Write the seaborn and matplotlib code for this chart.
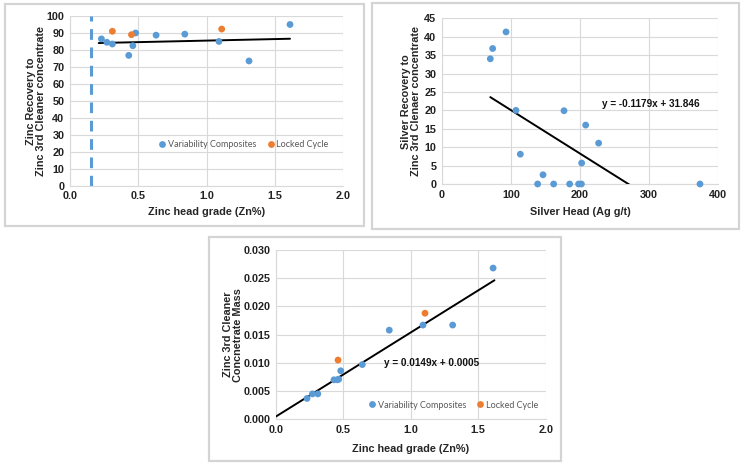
import numpy as np
import pandas as pd
import matplotlib
matplotlib.use("Agg")
import matplotlib.pyplot as plt
from matplotlib.patches import Rectangle
import seaborn as sns

# ---------------- data ----------------
# Chart 1: Zinc recovery vs zinc head grade
zn_var_x = [0.23, 0.27, 0.31, 0.43, 0.46, 0.48, 0.63, 0.84, 1.09, 1.31, 1.61]
zn_var_y = [86.5, 84.5, 83.5, 76.8, 82.5, 90.0, 88.7, 89.3, 85.0, 73.5, 95.0]
zn_lc_x = [0.31, 0.45, 1.11]
zn_lc_y = [91.0, 89.0, 92.3]
zn_trend_slope, zn_trend_intercept = 1.8, 83.7
zn_trend_range = [0.21, 1.61]
zn_cutoff = 0.157

# Chart 2: Silver recovery vs silver head
ag_x = [70.0, 73.4, 92.8, 107.2, 113.5, 138.6, 146.4, 161.8, 176.8, 185.0,
        198.0, 202.0, 202.4, 208.2, 227.0, 373.9]
ag_y = [34.0, 36.8, 41.3, 20.0, 8.1, 0.0, 2.5, 0.0, 19.9, 0.0,
        0.0, 0.0, 5.7, 16.0, 11.1, 0.0]
ag_trend_slope, ag_trend_intercept = -0.1179, 31.846
ag_eq = "y = -0.1179x + 31.846"

# Chart 3: Zinc concentrate mass vs zinc head grade
mass_var_x = [0.23, 0.27, 0.31, 0.43, 0.455, 0.465, 0.48, 0.64, 0.84, 1.09, 1.31, 1.61]
mass_var_y = [0.0037, 0.0045, 0.0045, 0.0070, 0.0070, 0.0071, 0.0086, 0.0097,
              0.0158, 0.0167, 0.0167, 0.0268]
mass_lc_x = [0.46, 1.105]
mass_lc_y = [0.0105, 0.0188]
mass_trend_slope, mass_trend_intercept = 0.0149, 0.0005
mass_trend_range = [0.0, 1.62]
mass_eq = "y = 0.0149x + 0.0005"

series_names = ["Variability Composites", "Locked Cycle"]
palette = {"Variability Composites": "#5B9BD5", "Locked Cycle": "#ED7D31"}

# ---------------- style ----------------
sns.set_theme(style="white")
plt.rcParams['font.family'] = ['Liberation Sans', 'DejaVu Sans']

W, H = 747, 467
fig = plt.figure(figsize=(W / 100, H / 100), dpi=100)
fig.patch.set_facecolor("white")

def fx(px):
    return px / W

def fy(py):
    return (H - py) / H

# panel frames
for (x0, y0, x1, y1) in [(5, 4, 364, 226), (372, 3, 739, 229), (209, 237, 561, 461)]:
    fig.add_artist(Rectangle((fx(x0), fy(y1)), fx(x1) - fx(x0), fy(y0) - fy(y1),
                             transform=fig.transFigure, fill=False,
                             edgecolor="#d4d4d4", linewidth=1.6))

GRID = "#d9d9d9"
TICK_FS = 7.8
LAB_FS = 7.8
LEG_FS = 6.5
MS = 24


def style_ax(ax):
    ax.set_facecolor("white")
    for s in ["top", "right"]:
        ax.spines[s].set_visible(False)
    for s in ["left", "bottom"]:
        ax.spines[s].set_color(GRID)
        ax.spines[s].set_linewidth(0.8)
    ax.grid(True, color=GRID, linewidth=0.8)
    ax.set_axisbelow(True)
    ax.tick_params(axis="both", length=0, labelsize=TICK_FS, pad=4)
    for lab in ax.get_xticklabels() + ax.get_yticklabels():
        lab.set_fontweight("bold")
        lab.set_color("#222222")


def make_df(xv, yv, xl, yl):
    return pd.DataFrame({
        "x": list(xv) + list(xl),
        "y": list(yv) + list(yl),
        "series": [series_names[0]] * len(xv) + [series_names[1]] * len(xl),
    })


def add_legend(ax, cx, cy):
    handles, labels = ax.get_legend_handles_labels()
    leg = ax.legend(handles, labels, loc="center", bbox_to_anchor=(cx, cy),
                    ncol=2, frameon=False, handletextpad=0.1, columnspacing=1.1,
                    markerscale=1.0, handlelength=1.0,
                    prop={"family": ["Lato", "DejaVu Sans"], "size": LEG_FS})
    for t in leg.get_texts():
        t.set_color("#595959")


# ---------- Chart 1 ----------
ax1 = fig.add_axes([fx(70), fy(185.7), fx(343.3) - fx(70), fy(16) - fy(185.7)])
df1 = make_df(zn_var_x, zn_var_y, zn_lc_x, zn_lc_y)
ax1.axvline(zn_cutoff, color="#5B9BD5", linewidth=2.2, linestyle=(0, (3.5, 2.5)), zorder=2)
tx = np.array(zn_trend_range)
ax1.plot(tx, zn_trend_slope * tx + zn_trend_intercept, color="black", linewidth=1.4, zorder=3)
sns.scatterplot(data=df1, x="x", y="y", hue="series", palette=palette, s=MS,
                edgecolor="none", ax=ax1, zorder=4, clip_on=False)
ax1.set_xlim(0, 2.0)
ax1.set_ylim(0, 100)
ax1.set_xticks(np.arange(0, 2.01, 0.5))
ax1.set_xticklabels([f"{v:.1f}" for v in np.arange(0, 2.01, 0.5)])
ax1.set_yticks(np.arange(0, 101, 10))
ax1.set_yticklabels([str(v) for v in range(0, 101, 10)])
style_ax(ax1)
ax1.set_xlabel("Zinc head grade (Zn%)", fontsize=LAB_FS, fontweight="bold")
ax1.set_ylabel("Zinc Recovery to\nZinc 3rd Cleaner concentrate", fontsize=LAB_FS,
               fontweight="bold", linespacing=1.0)
ax1.xaxis.set_label_coords(0.5, -0.126)
ax1.yaxis.set_label_coords(-0.088, 0.5)
add_legend(ax1, 0.633, 0.24)

# ---------- Chart 2 ----------
ax2 = fig.add_axes([fx(442), fy(184), fx(718) - fx(442), fy(18.3) - fy(184)])
df2 = pd.DataFrame({"x": ag_x, "y": ag_y})
tx2 = np.array([min(ag_x), max(ag_x)])
ax2.plot(tx2, ag_trend_slope * tx2 + ag_trend_intercept, color="black", linewidth=1.4, zorder=3)
sns.scatterplot(data=df2, x="x", y="y", color="#5B9BD5", s=MS, edgecolor="none",
                ax=ax2, zorder=4, clip_on=False)
ax2.set_xlim(0, 400)
ax2.set_ylim(0, 45)
ax2.set_xticks(range(0, 401, 100))
ax2.set_yticks(range(0, 46, 5))
style_ax(ax2)
ax2.set_xlabel("Silver Head (Ag g/t)", fontsize=LAB_FS, fontweight="bold")
ax2.set_ylabel("Silver Recovery to\nZinc 3rd Clenaer concentrate", fontsize=LAB_FS,
               fontweight="bold", linespacing=1.0)
ax2.xaxis.set_label_coords(0.5, -0.139)
ax2.yaxis.set_label_coords(-0.076, 0.5)
ax2.text(232, 21.6, ag_eq, fontsize=7.2, fontweight="bold", va="center", ha="left",
         color="#111111")

# ---------- Chart 3 ----------
ax3 = fig.add_axes([fx(276), fy(419.3), fx(545.7) - fx(276), fy(250) - fy(419.3)])
df3 = make_df(mass_var_x, mass_var_y, mass_lc_x, mass_lc_y)
tx3 = np.array(mass_trend_range)
ax3.plot(tx3, mass_trend_slope * tx3 + mass_trend_intercept, color="black", linewidth=1.4, zorder=3)
sns.scatterplot(data=df3, x="x", y="y", hue="series", palette=palette, s=MS,
                edgecolor="none", ax=ax3, zorder=4, clip_on=False)
ax3.set_xlim(0, 2.0)
ax3.set_ylim(0, 0.030)
ax3.set_xticks(np.arange(0, 2.01, 0.5))
ax3.set_xticklabels([f"{v:.1f}" for v in np.arange(0, 2.01, 0.5)])
yt = np.arange(0, 0.0301, 0.005)
ax3.set_yticks(yt)
ax3.set_yticklabels([f"{v:.3f}" for v in yt])
style_ax(ax3)
ax3.set_xlabel("Zinc head grade (Zn%)", fontsize=LAB_FS, fontweight="bold")
ax3.set_ylabel("Zinc 3rd Cleaner\nConcnetrate Mass", fontsize=LAB_FS,
               fontweight="bold", linespacing=1.0)
ax3.xaxis.set_label_coords(0.5, -0.143)
ax3.yaxis.set_label_coords(-0.122, 0.5)
ax3.text(0.80, 0.0100, mass_eq, fontsize=7.2, fontweight="bold", va="center", ha="left",
         color="#111111")
add_legend(ax3, 0.656, 0.084)

fig.savefig("out.png", dpi=100, facecolor="white")
